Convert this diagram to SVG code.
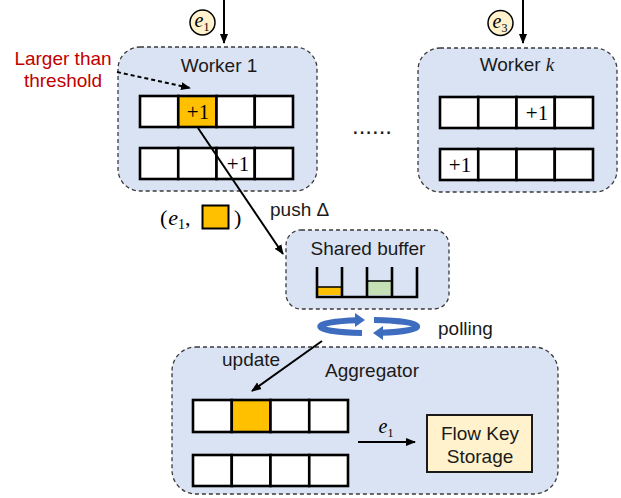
<svg xmlns="http://www.w3.org/2000/svg" width="621" height="498" viewBox="0 0 621 498">
<style>
.box{fill:#DAE3F3;stroke:#3a3a3a;stroke-width:1.3;stroke-dasharray:4 3}
.cell{fill:#fff;stroke:#000;stroke-width:2.6}
.org{fill:#FFC000}
.t{font-family:"Liberation Sans",Arial,sans-serif;font-size:19px;fill:#1a1a1a}
.m{font-family:"Liberation Serif","DejaVu Serif",serif;fill:#000}
.p1{font-size:21px}
.mi{font-style:italic}
.ln{stroke:#000;stroke-width:2;fill:none}
.circ{fill:#FFF2CC;stroke:#000;stroke-width:1.5}
.pol{fill:none;stroke:#3E6CBF;stroke-width:6}
.polh{fill:#3E6CBF}
</style>
<defs>
<marker id="ah" viewBox="0 0 10 10" refX="9" refY="5" markerWidth="10" markerHeight="10" markerUnits="userSpaceOnUse" orient="auto">
<path d="M0,1 L10,5 L0,9 Z" fill="#000"/>
</marker>
</defs>

<g id="worker1">
<rect class="box" x="118" y="47" width="199" height="144" rx="22"/>
<text class="t" x="219" y="72" text-anchor="middle">Worker 1</text>
<rect class="cell" x="140" y="96" width="38.25" height="31"/>
<rect class="cell org" x="178.25" y="96" width="38.25" height="31"/>
<rect class="cell" x="216.5" y="96" width="38.25" height="31"/>
<rect class="cell" x="254.75" y="96" width="38.25" height="31"/>
<text class="m p1" x="198" y="119" text-anchor="middle">+1</text>
<rect class="cell" x="140" y="148" width="38.25" height="31"/>
<rect class="cell" x="178.25" y="148" width="38.25" height="31"/>
<rect class="cell" x="216.5" y="148" width="38.25" height="31"/>
<rect class="cell" x="254.75" y="148" width="38.25" height="31"/>
<text class="m p1" x="238" y="171" text-anchor="middle">+1</text>
</g>

<g id="e1-in">
<circle class="circ" cx="202.5" cy="22.5" r="12.5"/>
<text class="m" x="202" y="27" text-anchor="middle" style="font-size:20px"><tspan class="mi">e</tspan><tspan style="font-size:12px" dy="4">1</tspan></text>
</g>

<g id="e3-in">
<circle class="circ" cx="500.5" cy="23" r="12.5"/>
<text class="m" x="500" y="27.5" text-anchor="middle" style="font-size:20px"><tspan class="mi">e</tspan><tspan style="font-size:12px" dy="4">3</tspan></text>
</g>

<g id="threshold-label">
<text class="t" x="63" y="65" text-anchor="middle" style="fill:#C00000">Larger than</text>
<text class="t" x="63" y="87" text-anchor="middle" style="fill:#C00000">threshold</text>
</g>

<g id="workerk">
<rect class="box" x="418" y="48" width="199" height="144" rx="22"/>
<text class="t" x="517" y="71" text-anchor="middle">Worker <tspan font-family="Liberation Serif,serif" font-style="italic">k</tspan></text>
<rect class="cell" x="440" y="97" width="38.25" height="31"/>
<rect class="cell" x="478.25" y="97" width="38.25" height="31"/>
<rect class="cell" x="516.5" y="97" width="38.25" height="31"/>
<rect class="cell" x="554.75" y="97" width="38.25" height="31"/>
<text class="m p1" x="537" y="120" text-anchor="middle">+1</text>
<rect class="cell" x="440" y="149" width="38.25" height="31"/>
<rect class="cell" x="478.25" y="149" width="38.25" height="31"/>
<rect class="cell" x="516.5" y="149" width="38.25" height="31"/>
<rect class="cell" x="554.75" y="149" width="38.25" height="31"/>
<text class="m p1" x="460" y="172" text-anchor="middle">+1</text>
</g>

<g id="ellipsis">
<text class="t" x="352" y="134" style="font-size:24px">......</text>
</g>

<g id="delta-label">
<text class="m" x="160" y="225" style="font-size:22px"><tspan>(</tspan><tspan class="mi" dx="1">e</tspan><tspan style="font-size:14px" dy="4">1</tspan><tspan dy="-4">,</tspan></text>
<rect x="202.5" y="205.5" width="26" height="23" fill="#FFC000" stroke="#000" stroke-width="2"/>
<text class="m" x="234" y="225" style="font-size:22px">)</text>
</g>

<g id="shared-buffer">
<rect class="box" x="286" y="230" width="163" height="79" rx="15"/>
<text class="t" x="368" y="255" text-anchor="middle">Shared buffer</text>
<rect x="318" y="287" width="24" height="8" fill="#FFC000"/>
<rect x="367" y="281" width="25" height="14" fill="#C5E0B4"/>
<path d="M367,281 H392 M318,287 H342" stroke="#000" stroke-width="1.5"/>
<path d="M317,267 V297 H417 V267 M342,267 V297 M367,267 V297 M392,267 V297" fill="none" stroke="#000" stroke-width="2.6"/>
</g>

<g id="polling">
<path class="pol" d="M362,333 A47 6.5 0 0 1 357,320.2"/>
<polygon class="polh" points="355,313 365,320 355,327"/>
<path class="pol" d="M374,320 A47 6.5 0 0 1 381,332.8"/>
<polygon class="polh" points="383,326 373,333 383,340"/>
<text class="t" x="438" y="335">polling</text>
</g>

<g id="aggregator">
<rect class="box" x="172" y="347" width="386" height="147" rx="24"/>
<text class="t" x="372" y="377" text-anchor="middle">Aggregator</text>
<rect class="cell" x="193" y="400" width="38.75" height="32"/>
<rect class="cell org" x="231.75" y="400" width="38.75" height="32"/>
<rect class="cell" x="270.5" y="400" width="38.75" height="32"/>
<rect class="cell" x="309.25" y="400" width="38.75" height="32"/>
<rect class="cell" x="193" y="455" width="38.75" height="31"/>
<rect class="cell" x="231.75" y="455" width="38.75" height="31"/>
<rect class="cell" x="270.5" y="455" width="38.75" height="31"/>
<rect class="cell" x="309.25" y="455" width="38.75" height="31"/>
</g>

<g id="flow-key-storage">
<rect x="427" y="415" width="105" height="57" fill="#FFF2CC" stroke="#1a1a1a" stroke-width="2"/>
<text class="t" x="480" y="440" text-anchor="middle">Flow Key</text>
<text class="t" x="480" y="463" text-anchor="middle">Storage</text>
</g>

<g id="connectors">
<line class="ln" x1="224" y1="0" x2="224" y2="43" marker-end="url(#ah)" stroke-width="1.8"/>
<line class="ln" x1="523" y1="0" x2="523" y2="43" marker-end="url(#ah)" stroke-width="1.8"/>
<line class="ln" x1="117" y1="72" x2="190" y2="88" stroke-dasharray="4 3" stroke-width="1.3" marker-end="url(#ah)"/>
<line class="ln" x1="198" y1="128" x2="283" y2="254" marker-end="url(#ah)"/>
<text class="t" x="270" y="216">push Δ</text>
<line class="ln" x1="322" y1="341" x2="252" y2="391" marker-end="url(#ah)"/>
<text class="t" x="222" y="366">update</text>
<line class="ln" x1="358" y1="442" x2="415" y2="442" marker-end="url(#ah)"/>
<text class="m" x="386" y="433" text-anchor="middle" style="font-size:20px"><tspan class="mi">e</tspan><tspan style="font-size:12px" dy="4">1</tspan></text>
</g>
</svg>
